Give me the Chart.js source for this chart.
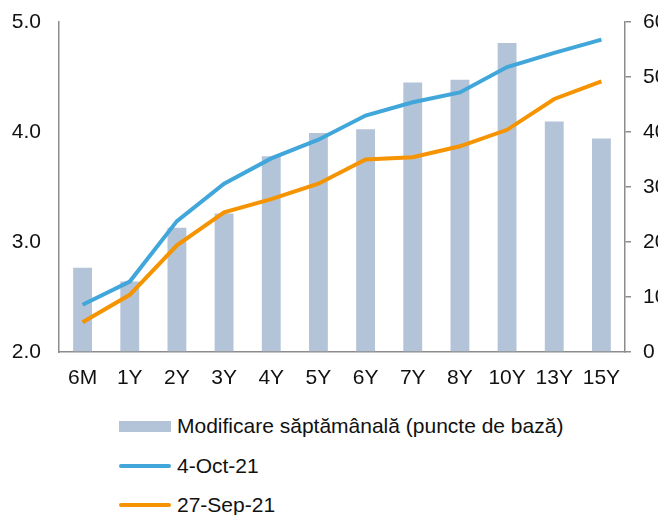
<!DOCTYPE html>
<html>
<head>
<meta charset="utf-8">
<script src="https://cdn.jsdelivr.net/npm/chart.js@4"></script>
<style>
  body { margin: 0; background: #fff; font-family: "Liberation Sans", Arial, sans-serif; }
  #wrap { position: relative; width: 658px; height: 515px; overflow: hidden; }
  #box { position: absolute; left: 0; top: 0; width: 658px; height: 400px; }
  .leg { position: absolute; left: 119px; height: 24px; display: flex; align-items: center; font-size: 21px; color: #111; white-space: nowrap; }
  .leg i { display: inline-block; width: 52px; margin-right: 6px; }
</style>
</head>
<body>
<div id="wrap">
  <div id="box"><canvas id="grafic"></canvas></div>
  <div id="legenda"></div>
</div>
<script>
// date
const scadente = ["6M", "1Y", "2Y", "3Y", "4Y", "5Y", "6Y", "7Y", "8Y", "10Y", "13Y", "15Y"];
const modificare = [15.3, 12.8, 22.6, 25.2, 35.6, 39.8, 40.5, 49.0, 49.5, 56.2, 41.9, 38.8];
const randOct4 = [2.43, 2.64, 3.19, 3.53, 3.76, 3.93, 4.15, 4.27, 4.36, 4.59, 4.72, 4.84];
const randSep27 = [2.27, 2.52, 2.97, 3.27, 3.39, 3.53, 3.75, 3.77, 3.87, 4.02, 4.30, 4.46];
const ticksStanga = [2, 3, 4, 5];
const ticksDreapta = [0, 10, 20, 30, 40, 50, 60];

const culori = { bara: "#b4c4d8", albastru: "#41a6d9", portocaliu: "#f59300", ax: "#8c8c8c" };
const font = { family: "'Liberation Sans', Arial, sans-serif", size: 21 };

const ctx = document.getElementById("grafic");

const chart = new Chart(ctx, {
  data: {
    labels: scadente,
    datasets: [
      {
        type: "bar",
        label: "Modificare săptămânală (puncte de bază)",
        data: modificare,
        yAxisID: "y1",
        backgroundColor: culori.bara,
        barPercentage: 0.4,
        categoryPercentage: 1,
        order: 2
      },
      {
        type: "line",
        label: "4-Oct-21",
        data: randOct4,
        yAxisID: "y",
        borderColor: culori.albastru,
        borderWidth: 4,
        pointRadius: 0,
        tension: 0,
        order: 1
      },
      {
        type: "line",
        label: "27-Sep-21",
        data: randSep27,
        yAxisID: "y",
        borderColor: culori.portocaliu,
        borderWidth: 4,
        pointRadius: 0,
        tension: 0,
        order: 0
      }
    ]
  },
  options: {
    responsive: true,
    maintainAspectRatio: false,
    animation: false,
    layout: { padding: { top: 22, left: 0, right: 0, bottom: 0 } },
    plugins: { legend: { display: false }, tooltip: { enabled: false } },
    scales: {
      x: {
        grid: { display: false, drawTicks: false },
        border: { color: culori.ax, width: 1.5 },
        ticks: { color: "#111", font, padding: 14, maxRotation: 0, autoSkip: false },
        afterFit(s) { s.height = 48; s.paddingLeft = 0; s.paddingRight = 0; }
      },
      y: {
        position: "left",
        min: 2,
        max: 5,
        grid: { display: false, drawTicks: false },
        border: { color: culori.ax, width: 1.5 },
        afterBuildTicks(s) { s.ticks = ticksStanga.map(v => ({ value: v })); },
        ticks: { color: "#111", font, padding: 18, callback: v => Number(v).toFixed(1) },
        afterFit(s) { s.width = 59; s.paddingTop = 0; s.paddingBottom = 0; }
      },
      y1: {
        position: "right",
        min: 0,
        max: 60,
        grid: { drawOnChartArea: false, drawTicks: true, tickLength: 6, color: culori.ax, lineWidth: 1.5 },
        border: { color: culori.ax, width: 1.5 },
        afterBuildTicks(s) { s.ticks = ticksDreapta.map(v => ({ value: v })); },
        ticks: { color: "#111", font, padding: 12 },
        afterFit(s) { s.width = 33; s.paddingTop = 0; s.paddingBottom = 0; }
      }
    }
  }
});

// legenda pe verticala, ca in original
const randuri = [426, 466, 505];
document.getElementById("legenda").innerHTML = chart.data.datasets.map((d, i) => {
  const semn = d.type === "bar"
    ? `<i style="height:11px;background:${d.backgroundColor}"></i>`
    : `<i style="height:4px;border-radius:2px;background:${d.borderColor}"></i>`;
  return `<div class="leg" style="top:${randuri[i] - 12}px">${semn}<span>${d.label}</span></div>`;
}).join("");
</script>
</body>
</html>
